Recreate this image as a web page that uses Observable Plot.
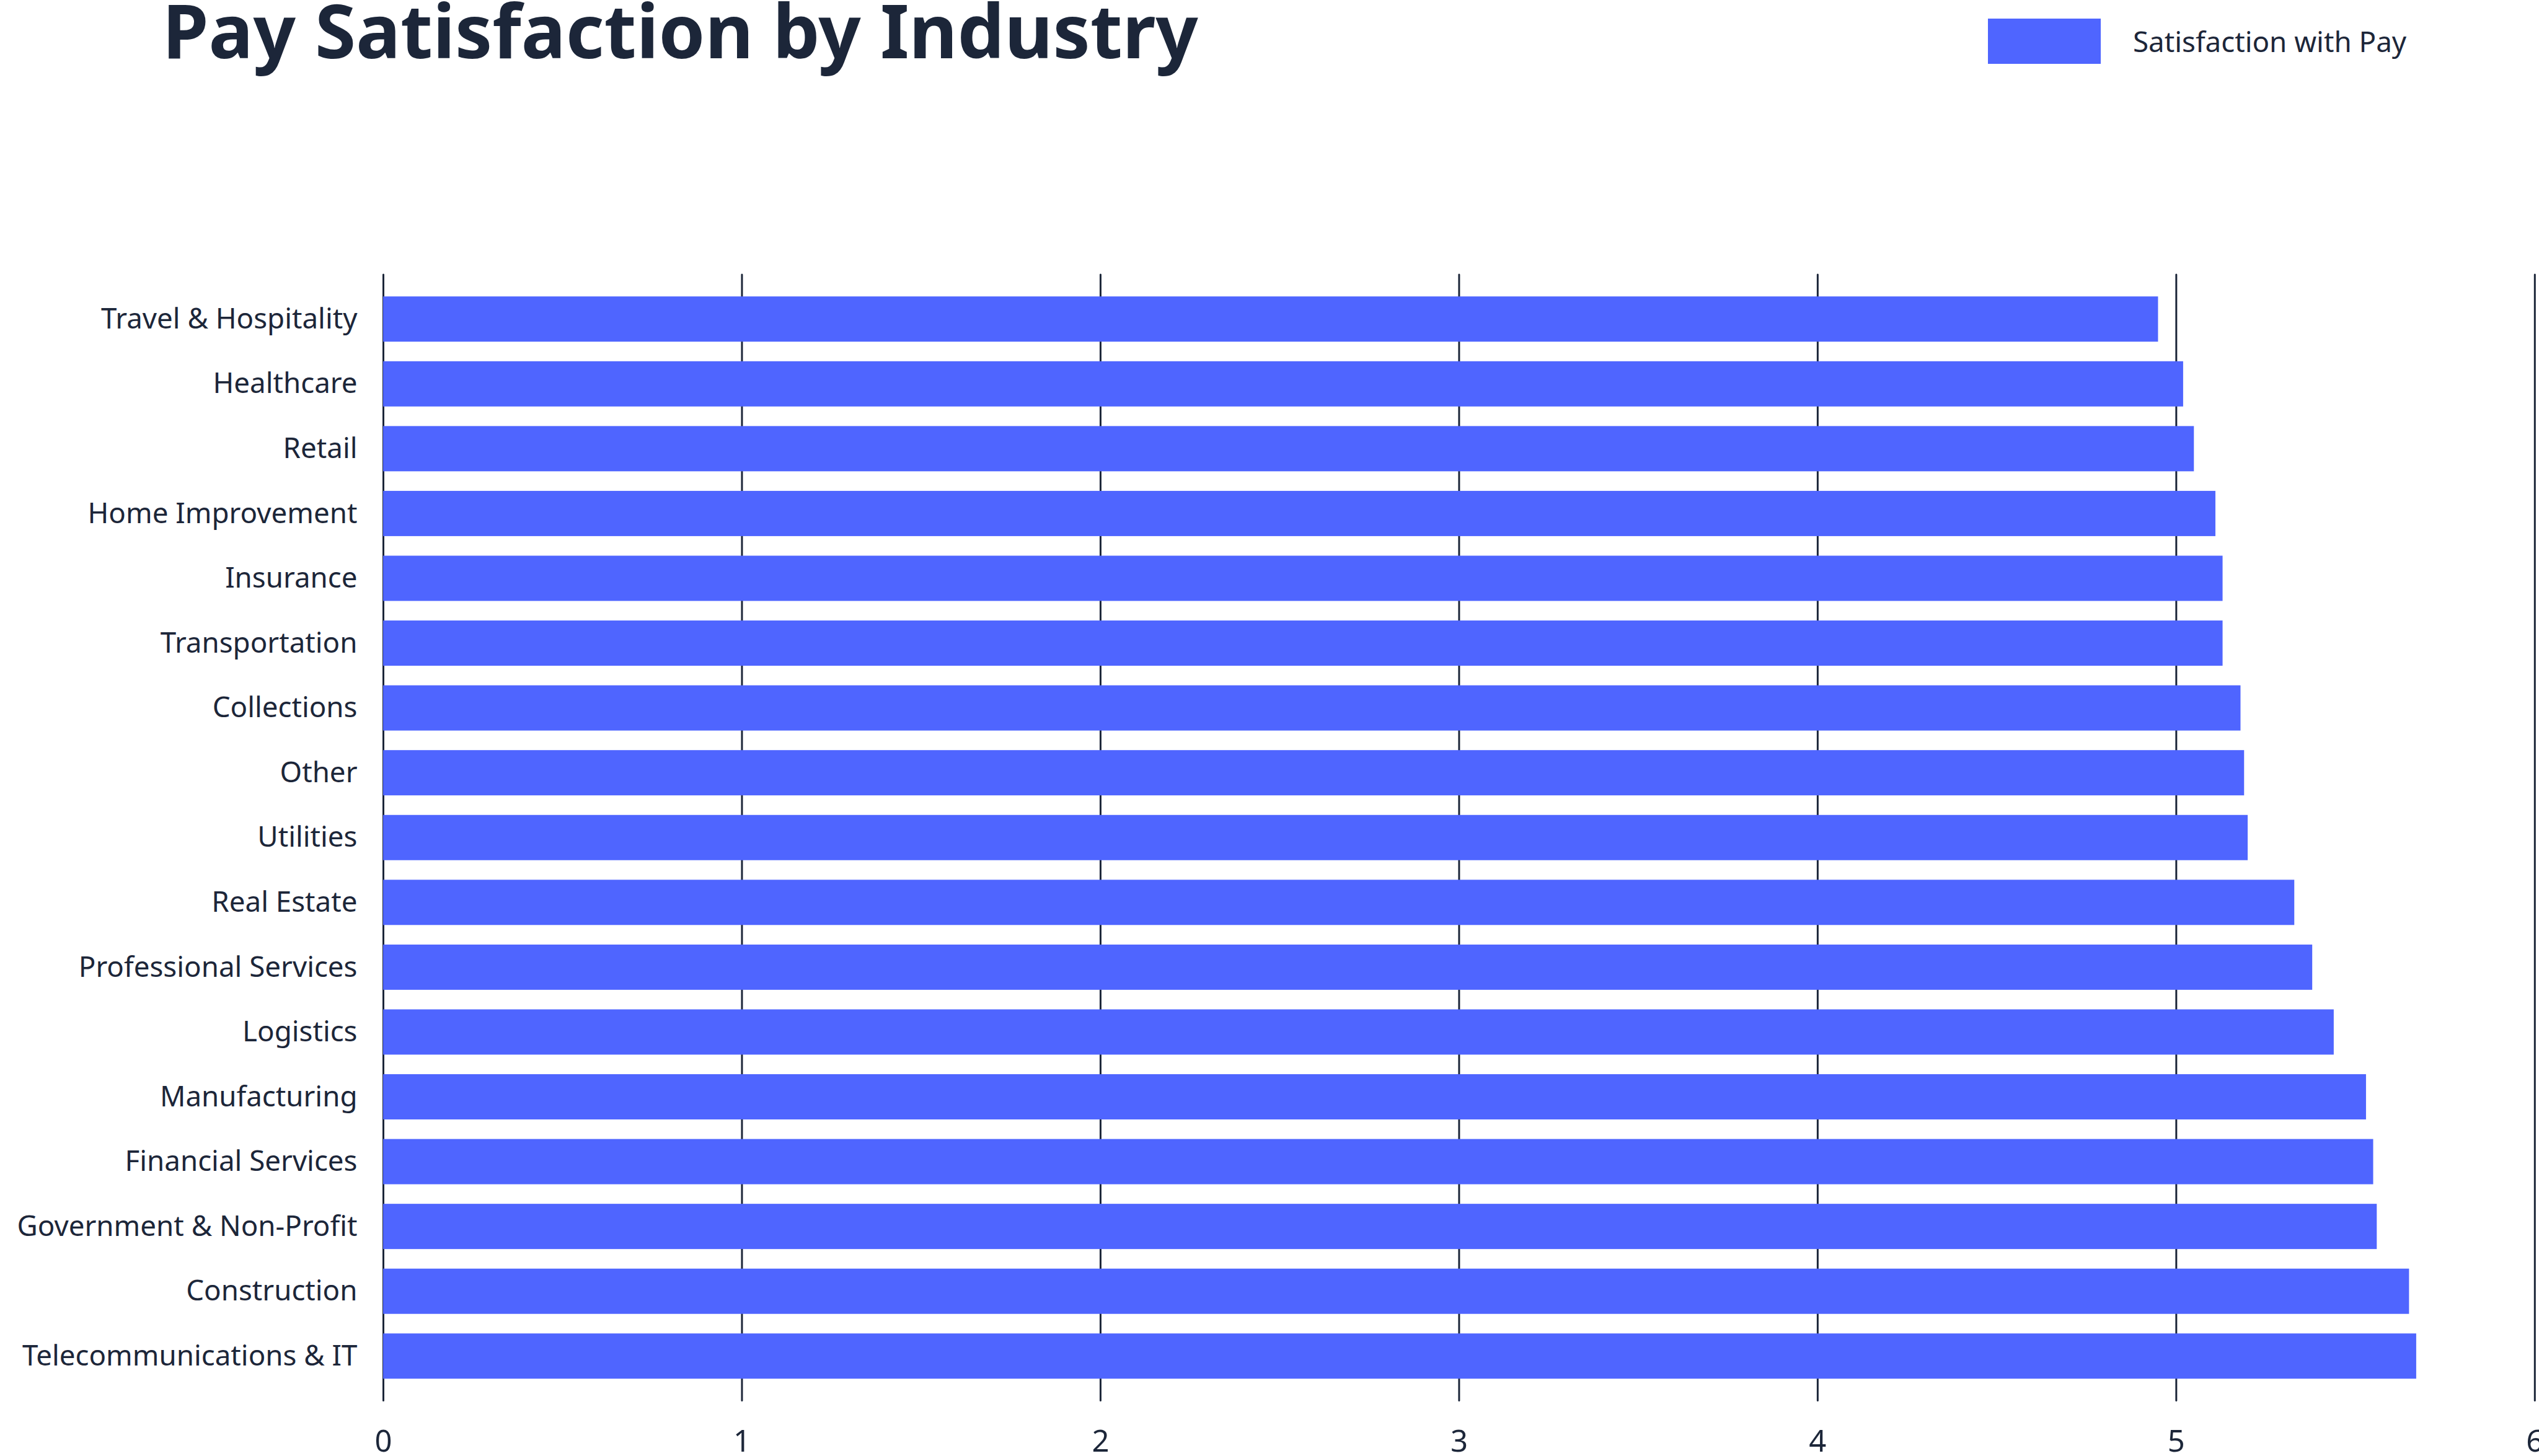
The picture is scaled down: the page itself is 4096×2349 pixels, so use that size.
<!DOCTYPE html>
<html>
<head>
<meta charset="utf-8">
<script src="https://cdn.jsdelivr.net/npm/d3@7"></script>
<script src="https://cdn.jsdelivr.net/npm/@observablehq/plot@0.6"></script>
<style>
  html, body { margin: 0; padding: 0; background: #ffffff; }
  body { width: 4096px; height: 2349px; overflow: hidden; font-family: "Noto Sans", "Open Sans", sans-serif; color: #1c2639; }
  #header { position: relative; width: 4096px; height: 300px; }
  #title { position: absolute; left: 262px; top: -12px; margin: 0; font-size: 120px; line-height: 120px; font-weight: 700; white-space: nowrap; }
  #legend-swatch { position: absolute; left: 3207px; top: 30px; width: 182px; height: 73px; }
  #legend-label { position: absolute; left: 3441px; top: 44px; font-size: 45.7px; line-height: 45.7px; white-space: nowrap; }
  #chart svg { display: block; }
</style>
</head>
<body>
<div id="header">
  <h1 id="title">Pay Satisfaction by Industry</h1>
  <div id="legend-swatch"></div>
  <div id="legend-label">Satisfaction with Pay</div>
</div>
<div id="chart"></div>
<script>
// Industries, top to bottom
const industries = [
  "Travel & Hospitality",
  "Healthcare",
  "Retail",
  "Home Improvement",
  "Insurance",
  "Transportation",
  "Collections",
  "Other",
  "Utilities",
  "Real Estate",
  "Professional Services",
  "Logistics",
  "Manufacturing",
  "Financial Services",
  "Government & Non-Profit",
  "Construction",
  "Telecommunications & IT"
];

// Average satisfaction with pay, same order as industries
const payScores = [4.95, 5.02, 5.05, 5.11, 5.13, 5.13, 5.18, 5.19, 5.20, 5.33, 5.38, 5.44, 5.53, 5.55, 5.56, 5.65, 5.67];

const xTicks = [0, 1, 2, 3, 4, 5, 6];
const seriesName = "Satisfaction with Pay";

const barColor = "#4f65ff";
const inkColor = "#1c2639";

document.getElementById("legend-swatch").style.background = barColor;
document.getElementById("legend-label").textContent = seriesName;

const rows = industries.map((industry, i) => ({industry, value: payScores[i]}));

const chart = Plot.plot({
  width: 4096,
  height: 2049,
  marginTop: 143,
  marginBottom: 89.5,
  marginLeft: 618,
  marginRight: 7.2,
  style: {
    fontFamily: "'Noto Sans', 'Open Sans', sans-serif",
    color: inkColor,
    background: "#ffffff"
  },
  x: {domain: [0, 6]},
  y: {domain: industries, paddingInner: 0.302, paddingOuter: 0.337, round: false},
  marks: [
    Plot.ruleX(xTicks, {stroke: inkColor, strokeWidth: 3, strokeLinecap: "round"}),
    Plot.barX(rows, {x: "value", y: "industry", fill: barColor}),
    Plot.axisX(xTicks, {tickSize: 0, tickPadding: 47.5, fontSize: 49, label: null, fill: inkColor, tickFormat: d => String(d)}),
    Plot.axisY({tickSize: 0, tickPadding: 42, fontSize: 45.7, label: null, fill: inkColor})
  ]
});

document.getElementById("chart").appendChild(chart);
</script>
</body>
</html>
